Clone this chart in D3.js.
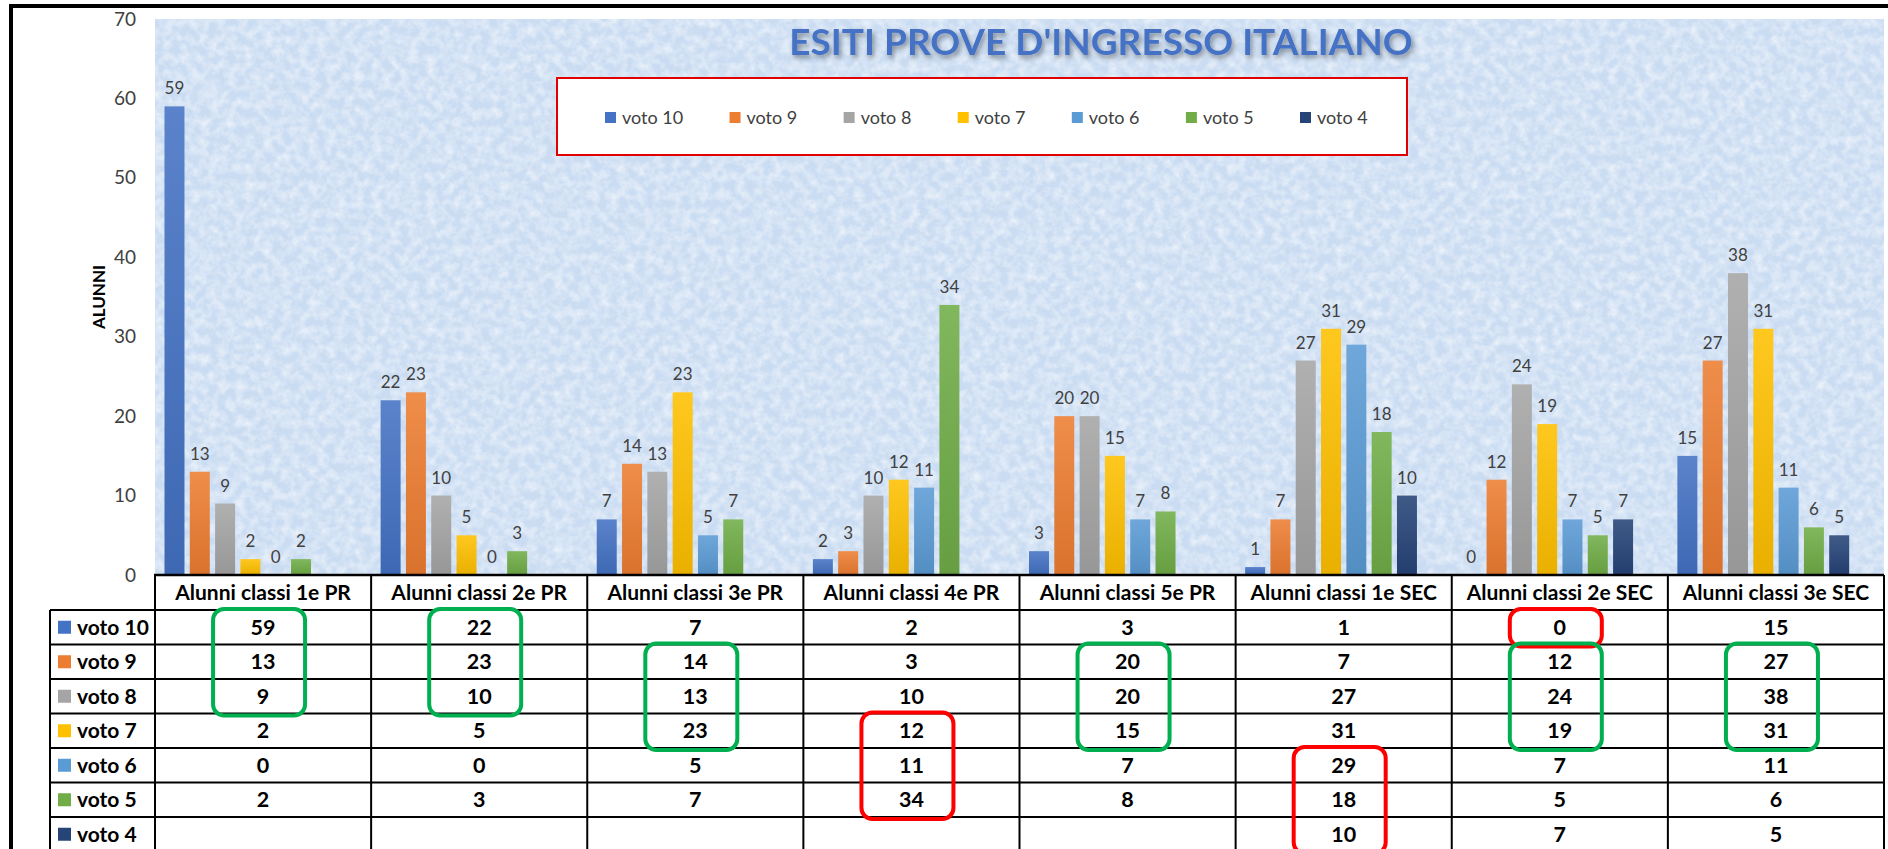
<!DOCTYPE html>
<html><head><meta charset="utf-8">
<script src="https://cdn.jsdelivr.net/npm/d3@7"></script>
<style>body{margin:0;background:#fff;} svg{display:block;font-family:Lato,"Open Sans",sans-serif;}</style>
</head><body>
<script>
// ---------- data ----------
const categories = ["Alunni classi 1e PR","Alunni classi 2e PR","Alunni classi 3e PR","Alunni classi 4e PR","Alunni classi 5e PR","Alunni classi 1e SEC","Alunni classi 2e SEC","Alunni classi 3e SEC"];
const seriesNames = ["voto 10","voto 9","voto 8","voto 7","voto 6","voto 5","voto 4"];
const voto10 = [59,22,7,2,3,1,0,15];
const voto9  = [13,23,14,3,20,7,12,27];
const voto8  = [9,10,13,10,20,27,24,38];
const voto7  = [2,5,23,12,15,31,19,31];
const voto6  = [0,0,5,11,7,29,7,11];
const voto5  = [2,3,7,34,8,18,5,6];
const voto4  = [null,null,null,null,null,10,7,5];
const seriesColors = ["#4472C4","#ED7D31","#A5A5A5","#FFC000","#5B9BD5","#70AD47","#264478"];
const yTicks = [0,10,20,30,40,50,60,70];
const chartTitle = "ESITI PROVE D'INGRESSO ITALIANO";
const yTitle = "ALUNNI";
// highlighted cells in the data table: category index, first/last series index
const highlights = [
  {cat:0, from:0, to:2, kind:"good"},
  {cat:1, from:0, to:2, kind:"good"},
  {cat:2, from:1, to:3, kind:"good"},
  {cat:3, from:3, to:5, kind:"bad"},
  {cat:4, from:1, to:3, kind:"good"},
  {cat:5, from:4, to:6, kind:"bad"},
  {cat:6, from:0, to:0, kind:"bad"},
  {cat:6, from:1, to:3, kind:"good"},
  {cat:7, from:1, to:3, kind:"good"}
];
const seriesValues = [voto10, voto9, voto8, voto7, voto6, voto5, voto4];

// ---------- layout ----------
const W = 1888, H = 849;
const plot = {left:155, right:1884, top:19, bottom:575};
const tableLeft = 50, headerBottom = 610, rowH = 34.5;

const svg = d3.select("body").append("svg").attr("width", W).attr("height", H);
const defs = svg.append("defs");

// texture filter
const tex = defs.append("filter").attr("id","tex").attr("x",0).attr("y",0).attr("width","100%").attr("height","100%");
tex.append("feTurbulence").attr("type","fractalNoise").attr("baseFrequency","0.11").attr("numOctaves",4).attr("seed",7).attr("result","n");
tex.append("feColorMatrix").attr("in","n").attr("type","matrix")
   .attr("values","0 0 0 0 1  0 0 0 0 1  0 0 0 0 1  1.8 0 0 0 -0.6");
const shadow = defs.append("filter").attr("id","tshadow").attr("x","-10%").attr("y","-30%").attr("width","120%").attr("height","160%");
shadow.append("feDropShadow").attr("dx",2).attr("dy",3).attr("stdDeviation",2.5).attr("flood-color","#000").attr("flood-opacity",0.4);

seriesColors.forEach((c,i)=>{
  const g = defs.append("linearGradient").attr("id","g"+i).attr("x1",0).attr("y1",0).attr("x2",0).attr("y2",1);
  g.append("stop").attr("offset","0%").attr("stop-color", d3.interpolateRgb(c,"#fff")(0.12));
  g.append("stop").attr("offset","100%").attr("stop-color", d3.color(c).darker(0.25).formatHex());
});

// scales
const x = d3.scaleBand().domain(categories).range([plot.left, plot.right]);
const slots = [...seriesNames, "_"];
const xs = d3.scaleBand().domain(slots).range([0, x.bandwidth()]).paddingInner(0.21).paddingOuter(0.375);
const y = d3.scaleLinear().domain([0,70]).range([plot.bottom, plot.top]);
const rowY = d3.scaleBand().domain(seriesNames).range([headerBottom, headerBottom + rowH*seriesNames.length]);

// outer frame
svg.append("rect").attr("x",11).attr("y",6).attr("width",W+20).attr("height",H+40)
   .attr("fill","#fff").attr("stroke","#000").attr("stroke-width",4);

// plot background
svg.append("rect").attr("x",plot.left).attr("y",plot.top).attr("width",plot.right-plot.left).attr("height",plot.bottom-plot.top)
   .attr("fill","#cadcf2");
svg.append("rect").attr("x",plot.left).attr("y",plot.top).attr("width",plot.right-plot.left).attr("height",plot.bottom-plot.top)
   .attr("filter","url(#tex)").attr("opacity",0.6);

// title
svg.append("text").attr("x",1101).attr("y",55).attr("text-anchor","middle")
   .attr("font-size",37).attr("font-weight",700).attr("fill","#4472C4").attr("filter","url(#tshadow)")
   .text(chartTitle);

// legend
const lg = svg.append("g");
lg.append("rect").attr("x",557).attr("y",78).attr("width",850).attr("height",77).attr("fill","#fff")
  .attr("stroke","#e00000").attr("stroke-width",2);
const legStart = 605, legLast = 1300;
const legTexts = seriesNames.map((n,i)=>lg.append("text").attr("y",124).attr("font-size",18).attr("fill","#404040").text(n));
const widths = legTexts.map(t=>t.node().getComputedTextLength());
const legGap = (legLast - legStart - d3.sum(widths.slice(0,-1)) - 17*(widths.length-1))/(widths.length-1);
let lx = legStart;
seriesNames.forEach((n,i)=>{
  lg.append("rect").attr("x",lx).attr("y",112).attr("width",11).attr("height",11).attr("fill",seriesColors[i]);
  legTexts[i].attr("x",lx+17);
  lx += 17 + widths[i] + legGap;
});

// y axis
const ya = svg.append("g").attr("transform","translate(136,0)")
  .call(d3.axisLeft(y).tickValues(yTicks).tickSize(0).tickPadding(0));
ya.select(".domain").remove();
ya.selectAll("text").attr("font-size",19).attr("fill","#404040").attr("font-family","Lato,sans-serif");

svg.append("text").attr("transform","translate(105,297) rotate(-90)").attr("text-anchor","middle")
   .attr("font-size",17).attr("font-weight",700).attr("fill","#000").text(yTitle);

// bars + labels
seriesNames.forEach((n,i)=>{
  const vals = seriesValues[i];
  const g = svg.append("g");
  const data = categories.map((c,j)=>({c, v: vals[j]})).filter(d=>d.v !== null);
  g.selectAll("rect").data(data).join("rect")
    .attr("x", d=>x(d.c)+xs(n)).attr("y", d=>y(d.v))
    .attr("width", xs.bandwidth()).attr("height", d=>y(0)-y(d.v))
    .attr("fill","url(#g"+i+")");
  g.selectAll("text").data(data).join("text")
    .attr("x", d=>x(d.c)+xs(n)+xs.bandwidth()/2).attr("y", d=>y(d.v)-12)
    .attr("text-anchor","middle").attr("font-size",17).attr("fill","#404040").text(d=>d.v);
});

// ---------- data table ----------
const tb = svg.append("g");
const tableBottom = headerBottom + rowH*seriesNames.length;
tb.selectAll("text.h").data(categories).join("text").attr("class","h")
  .attr("x", c=>x(c)+x.bandwidth()/2).attr("y", 600).attr("text-anchor","middle")
  .attr("font-size",21).attr("font-weight",700).attr("fill","#000").text(c=>c);
seriesNames.forEach((n,i)=>{
  const cy = rowY(n) + rowH/2;
  tb.append("rect").attr("x",58).attr("y",cy-6.5).attr("width",13).attr("height",13).attr("fill",seriesColors[i]);
  tb.append("text").attr("x",77).attr("y",cy+7.5).attr("font-size",21).attr("font-weight",700).attr("fill","#000").text(n);
  categories.forEach((c,j)=>{
    const v = seriesValues[i][j];
    if (v === null) return;
    tb.append("text").attr("x",x(c)+x.bandwidth()/2).attr("y",cy+7.5).attr("text-anchor","middle")
      .attr("font-size",21.5).attr("font-weight",700).attr("fill","#000").text(v);
  });
});
const ln = (x1,y1,x2,y2,w)=>tb.append("line").attr("x1",x1).attr("y1",y1).attr("x2",x2).attr("y2",y2)
   .attr("stroke","#000").attr("stroke-width",w||2);
ln(plot.left-1, plot.bottom, plot.right, plot.bottom, 2.5);
ln(tableLeft, headerBottom, plot.right, headerBottom);
seriesNames.forEach(n=>ln(tableLeft, rowY(n)+rowH, plot.right, rowY(n)+rowH));
ln(tableLeft, headerBottom, tableLeft, tableBottom);
ln(plot.left, plot.bottom, plot.left, tableBottom);
categories.forEach(c=>ln(x(c)+x.bandwidth(), plot.bottom, x(c)+x.bandwidth(), tableBottom));

// highlight boxes
const hl = svg.append("g").attr("fill","none").attr("stroke-width",4);
hl.selectAll("rect").data(highlights).join("rect")
  .attr("x", d=>x(categories[d.cat])+x.bandwidth()/2-50)
  .attr("y", d=>rowY(seriesNames[d.from])-1)
  .attr("width", 92)
  .attr("height", d=>rowY(seriesNames[d.to])+rowH - rowY(seriesNames[d.from]) + 3)
  .attr("rx",11).attr("ry",11)
  .attr("stroke", d=>d.kind==="good" ? "#00B050" : "#FF0000");
</script>
</body></html>
